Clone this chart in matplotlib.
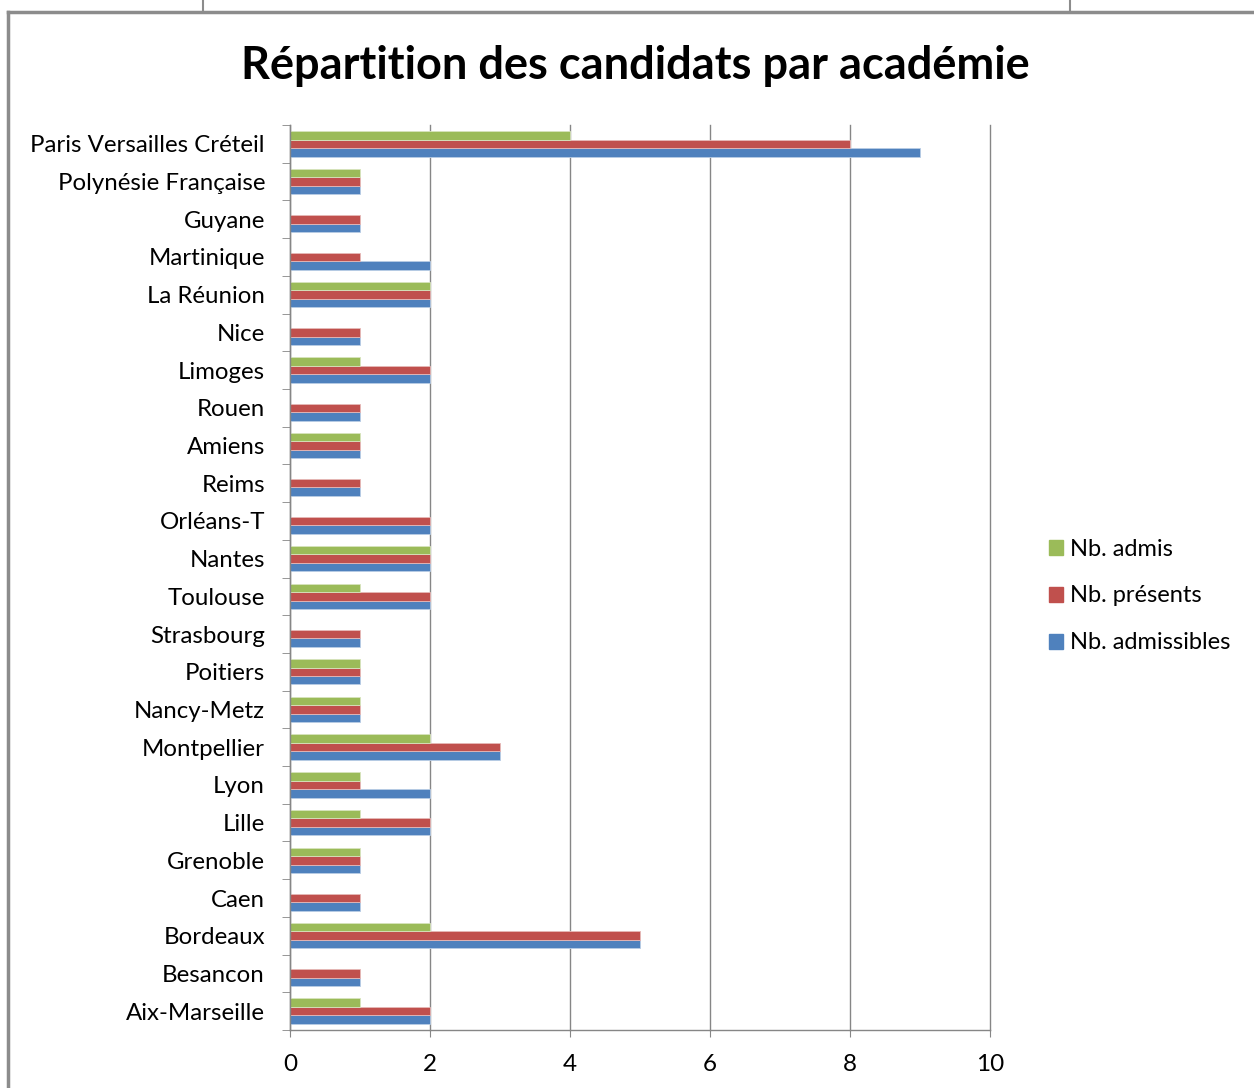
import matplotlib
matplotlib.use('Agg')
import matplotlib.pyplot as plt
import numpy as np
from matplotlib.patches import Patch
from matplotlib.lines import Line2D

# data (bottom to top, as drawn)
academies = ["Aix-Marseille", "Besancon", "Bordeaux", "Caen", "Grenoble", "Lille",
             "Lyon", "Montpellier", "Nancy-Metz", "Poitiers", "Strasbourg", "Toulouse",
             "Nantes", "Orléans-T", "Reims", "Amiens", "Rouen", "Limoges", "Nice",
             "La Réunion", "Martinique", "Guyane", "Polynésie Française",
             "Paris Versailles Créteil"]
admissibles = [2, 1, 5, 1, 1, 2, 2, 3, 1, 1, 1, 2, 2, 2, 1, 1, 1, 2, 1, 2, 2, 1, 1, 9]
presents = [2, 1, 5, 1, 1, 2, 1, 3, 1, 1, 1, 2, 2, 2, 1, 1, 1, 2, 1, 2, 1, 1, 1, 8]
admis = [1, 0, 2, 0, 1, 1, 1, 2, 1, 1, 0, 1, 2, 0, 0, 1, 0, 1, 0, 2, 0, 0, 1, 4]

c_blue = '#4F81BD'
c_red = '#C0504D'
c_green = '#9BBB59'

plt.rcParams['font.family'] = ['Lato', 'DejaVu Sans']

fig = plt.figure(figsize=(12.54, 10.88), dpi=100)
ax = fig.add_axes([290/1254, 1 - 1030/1088, 700/1254, 905/1088])

y = np.arange(len(academies))
h = 0.225
ax.barh(y - h, admissibles, height=h, color=c_blue, edgecolor='#B9CDE5', linewidth=0.6)
ax.barh(y, presents, height=h, color=c_red, edgecolor='#E6B9B8', linewidth=0.6)
ax.barh(y + h, admis, height=h, color=c_green, edgecolor='#D7E4BD', linewidth=0.6)

ax.set_xlim(0, 10)
ax.set_ylim(-0.5, len(academies) - 0.5)
ax.set_xticks([0, 2, 4, 6, 8, 10])
ax.tick_params(axis='x', labelsize=17.5, length=5, color='#868686', pad=12, direction='out')
ax.set_yticks(y)
ax.set_yticklabels(academies, fontsize=17.3)
ax.set_yticks(np.arange(-0.5, len(academies), 1), minor=True)
ax.tick_params(axis='y', which='major', length=0, pad=18)
ax.tick_params(axis='y', which='minor', length=6, color='#868686')
ax.xaxis.grid(True, color='#868686', linewidth=1)
for gl in ax.get_xgridlines():
    gl.set_clip_on(False)
ax.set_axisbelow(True)
for s in ['top', 'right']:
    ax.spines[s].set_visible(False)
for s in ['left', 'bottom']:
    ax.spines[s].set_color('#868686')
    ax.spines[s].set_linewidth(1)

fig.text(635/1254, 1 - 66/1088, "Répartition des candidats par académie",
         ha='center', va='center', fontsize=32.5, fontweight='bold')

handles = [Patch(color=c_green), Patch(color=c_red), Patch(color=c_blue)]
fig.legend(handles, ["Nb. admis", "Nb. présents", "Nb. admissibles"],
           loc='center left', bbox_to_anchor=(1028/1254, 1 - 596/1088),
           frameon=False, fontsize=17, handlelength=0.6, handleheight=0.6,
           handletextpad=0.3, labelspacing=1.1)

# outer frame lines
fig.add_artist(Line2D([8/1254, 8/1254], [0, 1 - 12/1088], color='#8c8c8c', lw=2.5,
                      transform=fig.transFigure))
fig.add_artist(Line2D([8/1254, 1], [1 - 12/1088, 1 - 12/1088], color='#8c8c8c', lw=2.5,
                      transform=fig.transFigure))
fig.add_artist(Line2D([203/1254, 203/1254], [1 - 12/1088, 1], color='#8c8c8c', lw=1.5,
                      transform=fig.transFigure))
fig.add_artist(Line2D([1070/1254, 1070/1254], [1 - 12/1088, 1], color='#8c8c8c', lw=1.5,
                      transform=fig.transFigure))

fig.savefig('out.png', dpi=100, facecolor='white')
